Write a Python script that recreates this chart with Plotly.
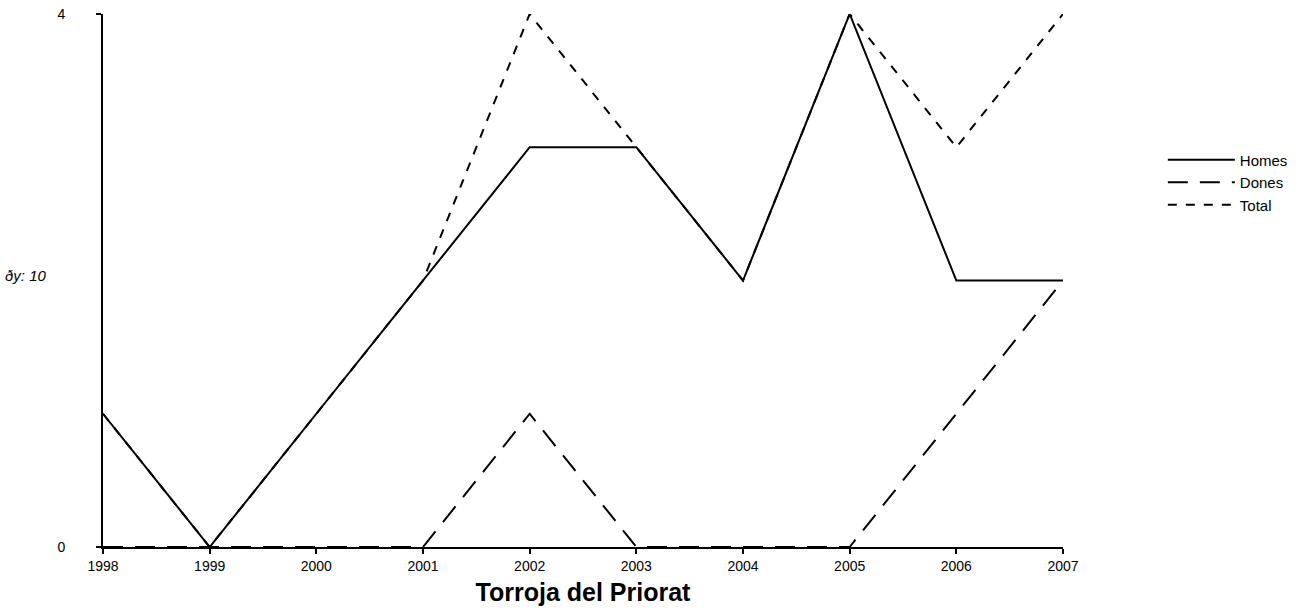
import plotly.graph_objects as go

years = [1998, 1999, 2000, 2001, 2002, 2003, 2004, 2005, 2006, 2007]
homes = [1, 0, 1, 2, 3, 3, 2, 4, 2, 2]
dones = [0, 0, 0, 0, 1, 0, 0, 0, 1, 2]
total = [1, 0, 1, 2, 4, 3, 2, 4, 3, 4]

fig = go.Figure()
fig.add_trace(go.Scatter(x=years, y=homes, mode="lines", name="Homes",
                         line=dict(color="black", width=2, dash="solid")))
fig.add_trace(go.Scatter(x=years, y=dones, mode="lines", name="Dones",
                         line=dict(color="black", width=2, dash="20px,12px")))
fig.add_trace(go.Scatter(x=years, y=total, mode="lines", name="Total",
                         line=dict(color="black", width=2, dash="9px,9px")))

fig.update_layout(
    width=1316, height=613,
    margin=dict(l=103, r=253, t=14, b=66, autoexpand=False),
    paper_bgcolor="white", plot_bgcolor="white",
    font=dict(family="Liberation Sans, Arial, sans-serif", size=14, color="black"),
    showlegend=True,
    legend=dict(x=1.104, y=0.757, xanchor="left", yanchor="top",
                font=dict(size=15), itemwidth=67, traceorder="normal",
                tracegroupgap=0, bgcolor="rgba(0,0,0,0)"),
    xaxis=dict(range=[1998, 2007], tickmode="array", tickvals=years,
               ticktext=[str(y) for y in years],
               showgrid=False, zeroline=False, showline=True, linecolor="black",
               linewidth=2, ticks="outside", ticklen=5, tickwidth=2, tickcolor="black",
               tickfont=dict(size=14), ticklabeloverflow="allow",
               title=dict(text="<b>Torroja del Priorat</b>", font=dict(size=25), standoff=11)),
    yaxis=dict(range=[0, 4], tickmode="array", tickvals=[0, 4], ticktext=["0", "4"],
               showgrid=False, zeroline=False, showline=True, linecolor="black",
               linewidth=2, ticks="outside", ticklen=5, tickwidth=2, tickcolor="black",
               tickfont=dict(size=14), ticklabelstandoff=28, ticklabeloverflow="allow"),
    annotations=[dict(text="<i>ðy: 10</i>", x=0, xref="paper", xshift=-100,
                      y=2, yref="y", yshift=5, xanchor="left", yanchor="middle",
                      showarrow=False, font=dict(size=15))],
)

fig.write_html("out.html", config={"displayModeBar": False},
               post_script="document.body.style.margin='0';")
